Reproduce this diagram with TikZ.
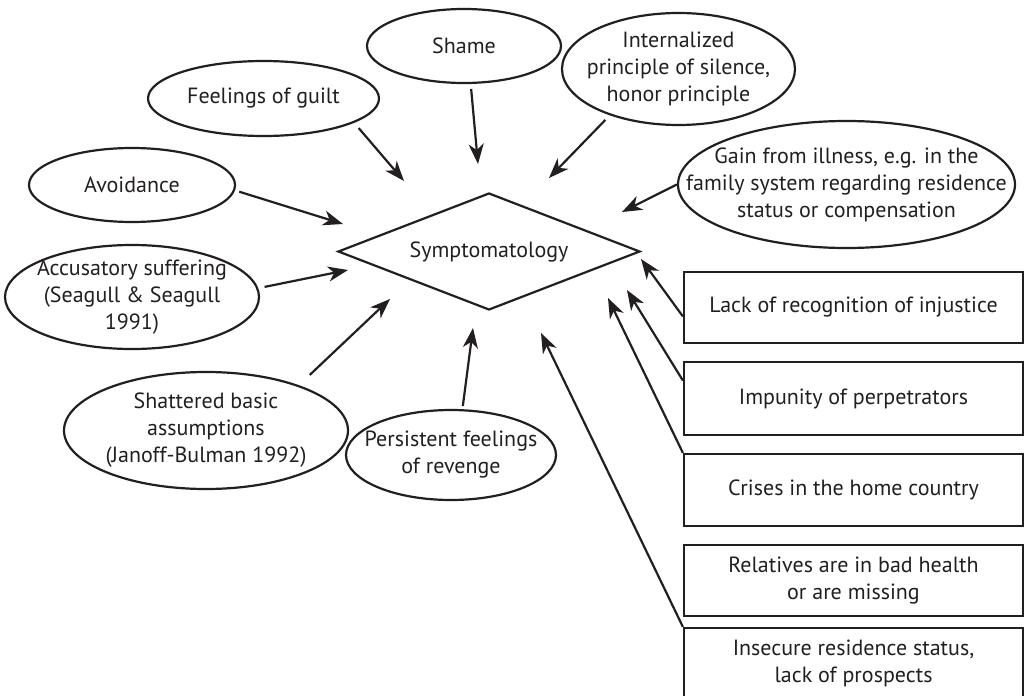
\documentclass[tikz,border=0pt]{standalone}
\usepackage{fontspec}
\setmainfont{PT Sans}
\usetikzlibrary{arrows.meta,shapes.geometric}
\definecolor{ink}{RGB}{35,31,32}

\begin{document}
\begin{tikzpicture}[>={Stealth[length=10pt,width=7.5pt,inset=3pt]},x=0.5pt,y=-0.5pt]

% ----------------------------
% Styles
% ----------------------------
\tikzset{
	txt/.style={font=\fontsize{11}{13.5}\selectfont,text=ink,align=center,inner sep=0pt},
	ell/.style={ellipse,draw=ink,line width=1.1pt,inner sep=0pt},
	dia/.style={diamond,draw=ink,line width=1.1pt,inner sep=0pt},
	fbox/.style={rectangle,draw=ink,line width=1.1pt,inner sep=0pt,
		minimum width=169.5pt,txt},
	arr/.style={->,draw=ink,fill=ink,line width=1.1pt}
}

\useasboundingbox (0,0) rectangle (1024,696);

% ============================================================
% Centre
% ============================================================
\node[dia,minimum width=151pt,minimum height=58.5pt,
	label={[txt]center:Symptomatology}] (symp) at (489,251.5) {};

% ============================================================
% Ellipses (left and top)
% ============================================================
\node[ell,minimum width=97pt,minimum height=37pt,
	label={[txt]center:Shame}] (shame) at (464,46) {};
\node[ell,minimum width=115.5pt,minimum height=37.5pt,
	label={[txt]center:Feelings of guilt}] (guilt) at (263.5,98.5) {};
\node[ell,minimum width=103pt,minimum height=37pt,
	label={[txt]center:Avoidance}] (avoid) at (132,185) {};
\node[ell,minimum width=127pt,minimum height=52pt,
	label={[txt]center:Accusatory suffering\\(Seagull \& Seagull\\1991)}] (accus) at (132,297) {};
\node[ell,minimum width=142pt,minimum height=58.5pt,
	label={[txt]center:Shattered basic\\assumptions\\(Janoff-Bulman 1992)}] (shatter) at (206,430.5) {};
\node[ell,minimum width=105pt,minimum height=45pt,
	label={[txt]center:Persistent feelings\\of revenge}] (persist) at (451,455) {};
\node[ell,minimum width=116.5pt,minimum height=56pt,
	label={[txt]center:Internalized\\principle of silence,\\honor principle}] (intern) at (678.5,69) {};
\node[ell,minimum width=168.5pt,minimum height=63.5pt,
	label={[txt]center:Gain from illness, e.g. in the\\family system regarding residence\\status or compensation}] (gain) at (846.5,184.5) {};

% ============================================================
% Boxes (right)
% ============================================================
\node[fbox,minimum height=35.5pt] (lack) at (853.5,307.5) {Lack of recognition of injustice};
\node[fbox,minimum height=36.5pt] (impun) at (853.5,398.5) {Impunity of perpetrators};
\node[fbox,minimum height=36pt] (crises) at (853.5,490) {Crises in the home country};
\node[fbox,minimum height=35.5pt] (relat) at (853.5,580.5) {Relatives are in bad health\\or are missing};
\node[fbox,minimum height=35.5pt] (insec) at (853.5,663.5) {Insecure residence status,\\lack of prospects};

% Arrow tips (they stop short of the diamond)
\coordinate (tShame)   at (478,164);
\coordinate (tGuilt)   at (404,181);
\coordinate (tAvoid)   at (343,224);
\coordinate (tAccus)   at (348,270);
\coordinate (tShatter) at (390,299);
\coordinate (tPersist) at (473,328);
\coordinate (tIntern)  at (549,178);
\coordinate (tGain)    at (622,212);
\coordinate (tLack)    at (641,259);
\coordinate (tImpun)   at (627,290);
\coordinate (tCrises)  at (608,298);
\coordinate (tInsec)   at (541,333);

% ============================================================
% Arrows
% ============================================================
\draw[arr,shorten <=2.5pt] (shame.-80) -- (tShame);
\draw[arr,shorten <=3.5pt] (guilt.-15.5) -- (tGuilt);
\draw[arr,shorten <=2.2pt] (avoid.-3.2) -- (tAvoid);
\draw[arr,shorten <=3.2pt] (accus.4.5) -- (tAccus);
\draw[arr,shorten <=7.5pt] (shatter.26.6) -- (tShatter);
\draw[arr,shorten <=1.6pt] (persist.76.8) -- (tPersist);
\draw[arr,shorten <=3.2pt] (intern.-146.3) -- (tIntern);
\draw[arr] (gain.180.8) -- (tGain);

\draw[arr] (lack.183.2) -- (tLack);
\draw[arr] (impun.174.8) -- (tImpun);
\draw[arr] (crises.north west) -- (tCrises);
\draw[arr] (insec.north west) -- (tInsec);
\end{tikzpicture}
\end{document}
